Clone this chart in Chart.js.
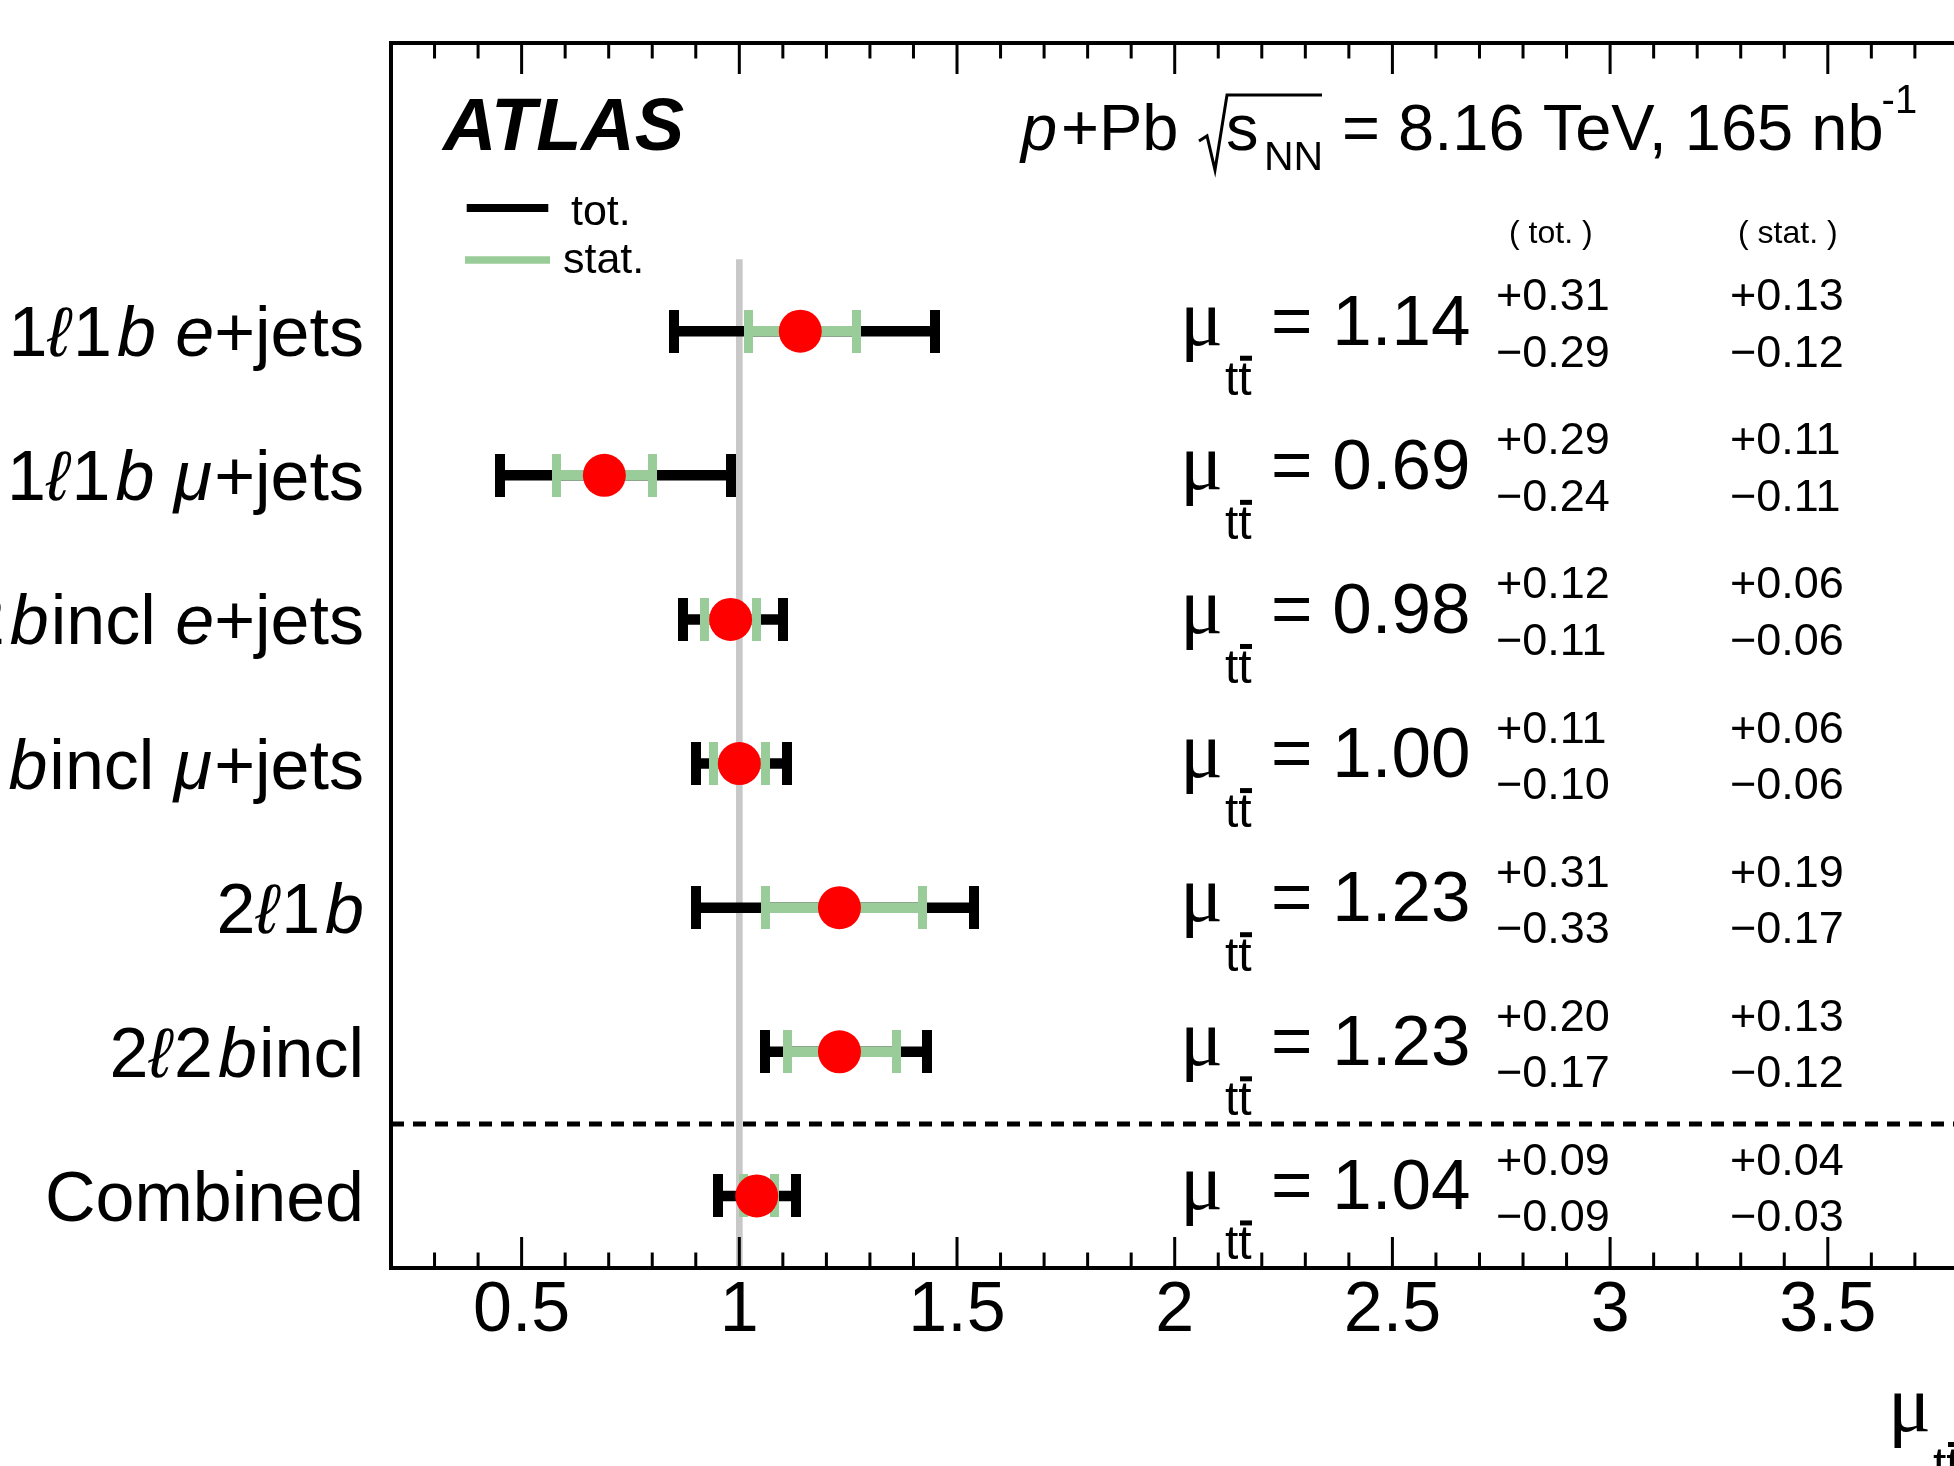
<!DOCTYPE html>
<html>
<head>
<meta charset="utf-8">
<script src="https://cdn.jsdelivr.net/npm/chart.js@4/dist/chart.umd.min.js"></script>
<style>
html,body{margin:0;padding:0;background:#fff;overflow:hidden;width:1954px;height:1466px;}
#wrap{position:absolute;left:0;top:0;width:2200px;height:1466px;}
canvas{display:block;}
</style>
</head>
<body>
<div id="wrap"><canvas id="c" width="2200" height="1466"></canvas></div>
<script>
// ---- data ----
const categories = ['1ℓ1b e+jets', '1ℓ1b μ+jets', '1ℓ2bincl e+jets', '1ℓ2bincl μ+jets', '2ℓ1b', '2ℓ2bincl', 'Combined'];
const muValues  = [1.14, 0.69, 0.98, 1.00, 1.23, 1.23, 1.04];
const totUp     = [0.31, 0.29, 0.12, 0.11, 0.31, 0.20, 0.09];
const totDown   = [0.29, 0.24, 0.11, 0.10, 0.33, 0.17, 0.09];
const statUp    = [0.13, 0.11, 0.06, 0.06, 0.19, 0.13, 0.04];
const statDown  = [0.12, 0.11, 0.06, 0.06, 0.17, 0.12, 0.03];
const xTicks    = [0.5, 1, 1.5, 2, 2.5, 3, 3.5, 4];
const xTickLabels = ['0.5', '1', '1.5', '2', '2.5', '3', '3.5', '4'];
const refValue  = 1;

// ---- style ----
const GREEN = '#99cc99';
const GRAY = 'rgb(200,200,200)';
const SANS = '"Liberation Sans", Arial, Helvetica, sans-serif';
const SERIF = '"Liberation Serif", "Times New Roman", serif';

function makeCap(w, h, color) {
  const c = document.createElement('canvas');
  c.width = w; c.height = h;
  const g = c.getContext('2d');
  g.fillStyle = color; g.fillRect(0, 0, w, h);
  return c;
}
const blackCap = makeCap(10, 43, '#000');
const greenCap = makeCap(9, 43, GREEN);

const datasets = [];
datasets.push({
  data: muValues.map((v, i) => ({x: v, y: i})),
  showLine: false, pointRadius: 21.5, pointBackgroundColor: '#ff0000',
  pointBorderWidth: 0, pointBorderColor: '#ff0000', order: 0
});
muValues.forEach((v, i) => {
  datasets.push({
    data: [{x: v - statDown[i], y: i}, {x: v + statUp[i], y: i}],
    showLine: true, borderColor: GREEN, borderWidth: 10.5, borderCapStyle: 'butt',
    pointStyle: greenCap, pointRadius: 1, order: 1
  });
  datasets.push({
    data: [{x: v - totDown[i], y: i}, {x: v + totUp[i], y: i}],
    showLine: true, borderColor: '#000', borderWidth: 10.5, borderCapStyle: 'butt',
    pointStyle: blackCap, pointRadius: 1, order: 2
  });
});
datasets.push({
  data: [{x: refValue, y: -0.5}, {x: refValue, y: 6.5}],
  showLine: true, borderColor: GRAY, borderWidth: 6.7, borderCapStyle: 'butt', pointRadius: 0, order: 3
});
datasets.push({
  data: [{x: 0.2, y: 5.5}, {x: 4.0, y: 5.5}],
  showLine: true, borderColor: '#000', borderWidth: 5, borderDash: [13, 9], borderCapStyle: 'butt', pointRadius: 0, order: 4
});

function labelSegments(label) {
  const out = [];
  for (let k = 0; k < label.length; k++) {
    const ch = label[k];
    let it = false, gapBefore = 0;
    if (ch === 'ℓ') it = true;
    else if (ch === 'b' && /\d/.test(label[k - 1] || '')) { it = true; gapBefore = 5; }
    else if ((ch === 'e' || ch === 'μ') && label[k + 1] === '+') it = true;
    if (/\d/.test(ch) && label[k - 1] === 'ℓ') gapBefore = 3;
    if (/[a-z]/.test(ch) && label[k - 1] === 'b' && /\d/.test(label[k - 2] || '')) gapBefore = 2;
    if (ch === '+' && label[k - 1] === 'μ') gapBefore = 2;
    out.push({t: ch, it, gapBefore});
  }
  return out;
}

function drawMuSymbol(ctx, x, base) {
  ctx.font = '80px ' + SERIF;
  ctx.fillText('μ', x, base);
  ctx.font = '48px ' + SANS;
  ctx.fillText('tt', x + 45, base + 50);
  ctx.fillRect(x + 60, base + 11, 12, 5);
}

const decor = {
  id: 'decor',
  beforeDraw(chart) {
    const ctx = chart.ctx;
    ctx.save(); ctx.fillStyle = '#fff'; ctx.fillRect(0, 0, chart.width, chart.height); ctx.restore();
  },
  afterDraw(chart) {
    const ctx = chart.ctx;
    const a = chart.chartArea;
    const xs = chart.scales.x, ys = chart.scales.y;
    ctx.save();
    ctx.fillStyle = '#000'; ctx.strokeStyle = '#000';
    // frame
    ctx.lineWidth = 4;
    ctx.strokeRect(a.left, a.top, a.right - a.left, a.bottom - a.top);
    // ticks (inward, top and bottom)
    ctx.lineWidth = 3;
    for (let k = 3; k <= 40; k++) {
      const px = xs.getPixelForValue(k / 10);
      const len = (k % 5 === 0) ? 31 : 15.5;
      ctx.beginPath();
      ctx.moveTo(px, a.bottom); ctx.lineTo(px, a.bottom - len);
      ctx.moveTo(px, a.top); ctx.lineTo(px, a.top + len);
      ctx.stroke();
    }
    // left category labels
    ctx.textBaseline = 'alphabetic';
    ctx.textAlign = 'left';
    categories.forEach((lab, i) => {
      const y = ys.getPixelForValue(i);
      const segs = labelSegments(lab);
      let total = 0;
      segs.forEach(s => { ctx.font = (s.it ? 'italic ' : '') + '70px ' + SANS; s.w = ctx.measureText(s.t).width; total += s.w + s.gapBefore; });
      let x = 364 - total;
      segs.forEach(s => { x += s.gapBefore; ctx.font = (s.it ? 'italic ' : '') + '70px ' + SANS; ctx.fillText(s.t, x, y + 25); x += s.w; });
    });
    // right annotations
    muValues.forEach((v, i) => {
      const y = ys.getPixelForValue(i);
      const base = y + 13.5;
      drawMuSymbol(ctx, 1180, base);
      ctx.font = '71px ' + SANS;
      ctx.fillText('= ' + v.toFixed(2), 1271, base);
      ctx.font = '45px ' + SANS;
      ctx.fillText('+' + totUp[i].toFixed(2), 1496, y - 21);
      ctx.fillText('\u2212' + totDown[i].toFixed(2), 1496, y + 35.5);
      ctx.fillText('+' + statUp[i].toFixed(2), 1730, y - 21);
      ctx.fillText('\u2212' + statDown[i].toFixed(2), 1730, y + 35.5);
    });
    const y0 = ys.getPixelForValue(0);
    ctx.font = '32px ' + SANS;
    ctx.fillText('( tot. )', 1509, y0 - 88);
    ctx.fillText('( stat. )', 1738, y0 - 88);
    // ATLAS
    ctx.font = 'italic bold 74px ' + SANS;
    ctx.fillText('ATLAS', 443, 150);
    // energy header
    ctx.font = 'italic 65px ' + SANS;
    ctx.fillText('p', 1021, 150);
    ctx.font = '65px ' + SANS;
    ctx.fillText('+Pb', 1061, 150);
    ctx.lineWidth = 3;
    ctx.beginPath();
    ctx.moveTo(1199, 141); ctx.lineTo(1207, 136); ctx.lineTo(1215, 170); ctx.lineTo(1227, 95); ctx.lineTo(1322, 95);
    ctx.stroke();
    ctx.fillText('s', 1226, 150);
    ctx.font = '41px ' + SANS;
    ctx.fillText('NN', 1264, 170);
    ctx.font = '65px ' + SANS;
    ctx.fillText(' = 8.16 TeV, 165 nb', 1324, 150);
    const w = ctx.measureText(' = 8.16 TeV, 165 nb').width;
    ctx.font = '40px ' + SANS;
    ctx.fillText('-1', 1324 + w - 2, 113);
    // legend
    ctx.lineWidth = 8; ctx.strokeStyle = '#000';
    ctx.beginPath(); ctx.moveTo(466.7, 208); ctx.lineTo(548.3, 208); ctx.stroke();
    ctx.lineWidth = 7.5; ctx.strokeStyle = GREEN;
    ctx.beginPath(); ctx.moveTo(465, 260); ctx.lineTo(550, 260); ctx.stroke();
    ctx.font = '43px ' + SANS;
    ctx.fillText('tot.', 571, 225);
    ctx.fillText('stat.', 563, 273);
    // axis title
    drawMuSymbol(ctx, 1888, 1431);
    ctx.restore();
  }
};

new Chart(document.getElementById('c'), {
  type: 'scatter',
  data: {datasets},
  options: {
    responsive: false, animation: false, devicePixelRatio: 1, events: [],
    layout: {padding: {left: 391, right: 154.5, top: 43, bottom: 0}},
    plugins: {legend: {display: false}, tooltip: {enabled: false}},
    elements: {line: {tension: 0}},
    scales: {
      x: {
        type: 'linear', min: 0.2, max: 4.0, position: 'bottom',
        afterBuildTicks: s => { s.ticks = xTicks.map(v => ({value: v})); },
        afterFit: s => { s.height = 198; },
        grid: {display: false, drawTicks: false},
        border: {display: false},
        ticks: {
          callback: v => xTickLabels[xTicks.indexOf(v)],
          font: {family: SANS, size: 70, lineHeight: 1.2},
          color: '#000', padding: 2, maxRotation: 0, autoSkip: false
        }
      },
      y: {type: 'linear', min: -2, max: 6.5, reverse: true, display: false}
    }
  },
  plugins: [decor]
});
</script>
</body>
</html>
